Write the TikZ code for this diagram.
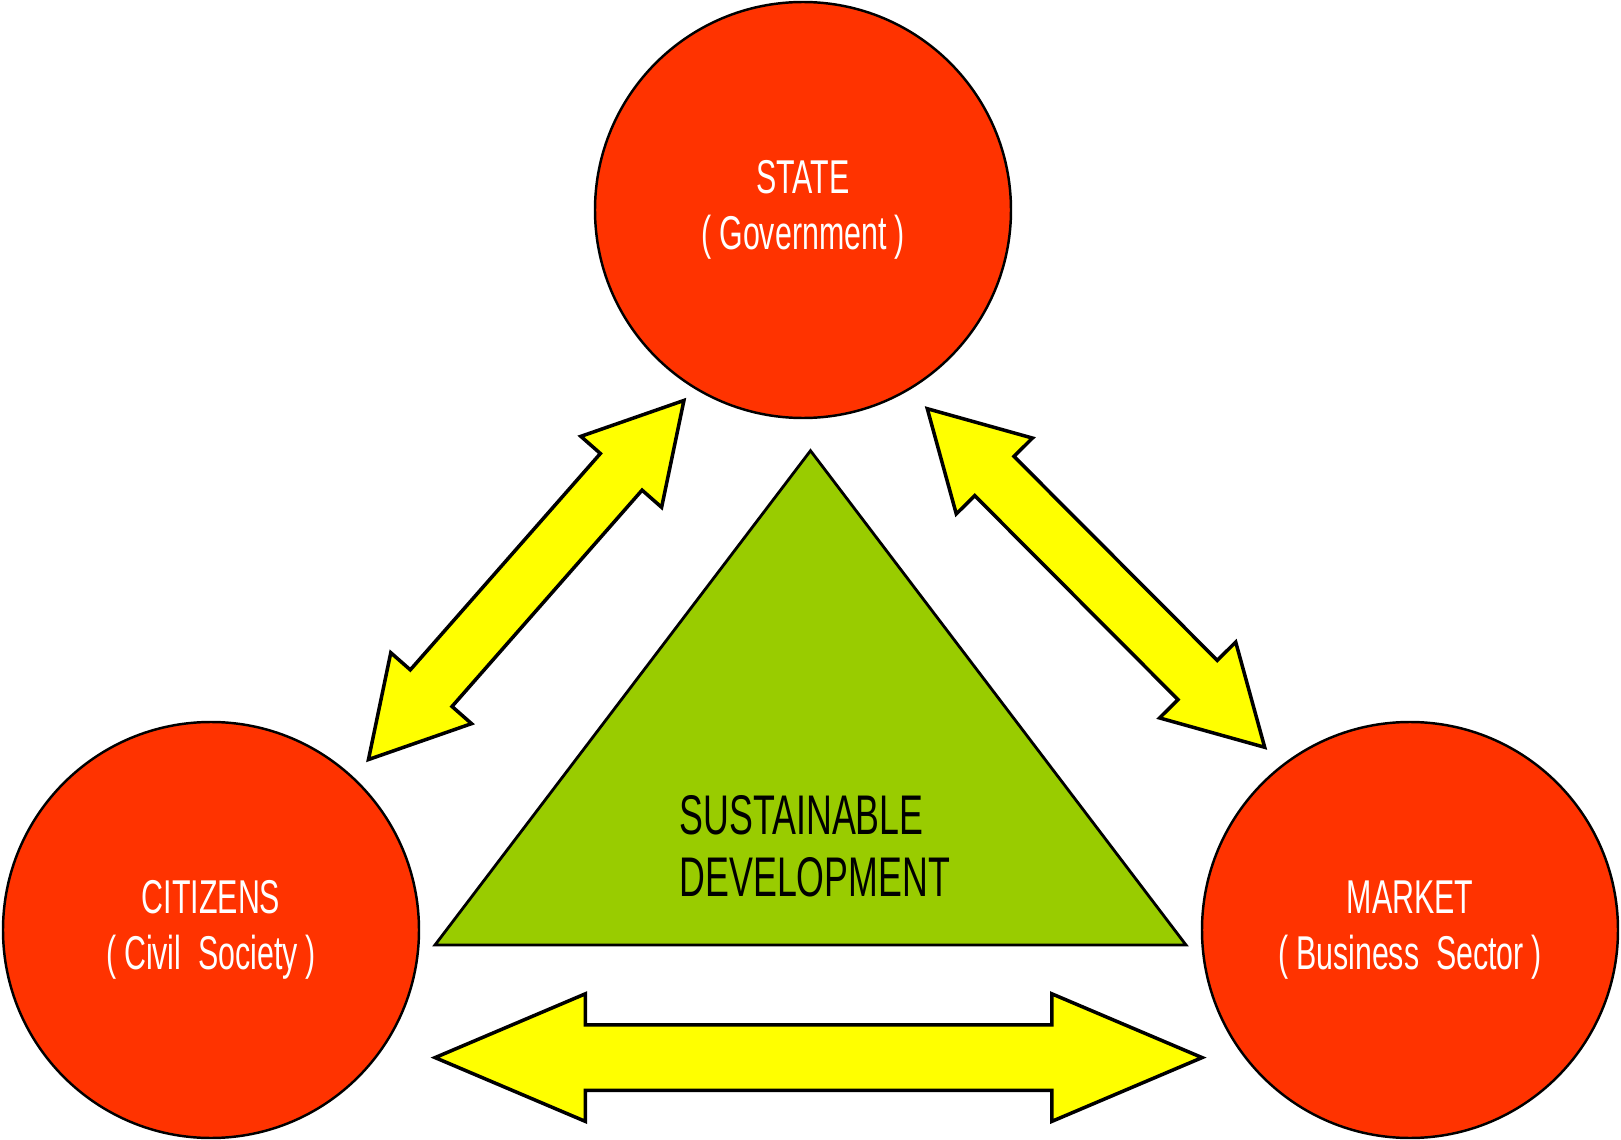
\documentclass[tikz,border=0pt]{standalone}
\usepackage{fontspec}
\setmainfont{Liberation Sans}
\newfontfamily\narrowfont[FakeStretch=0.64]{Liberation Sans}
\usepackage{tikz}
\usetikzlibrary{shapes.arrows}

\definecolor{actorred}{HTML}{FF3300}
\definecolor{goalgreen}{HTML}{99CC00}
\definecolor{linkyellow}{HTML}{FFFF00}

\tikzset{
	actor/.style={draw, line width=0.7pt, fill=actorred, shape=circle, minimum size=4.16cm,
		inner sep=0pt, align=center, text=white, font=\narrowfont\fontsize{13.5}{16}\selectfont},
	link/.style={draw, line width=1pt, fill=linkyellow, shape=double arrow, inner xsep=0pt,
		double arrow head indent=0pt},
	slantlink/.style={link, minimum height=4.78cm, inner ysep=0.26cm,
		double arrow head extend=0.26cm, double arrow tip angle=59}
}

\begin{document}
\begin{tikzpicture}
	\useasboundingbox (0,0) rectangle (16.21,11.39);

		\node[actor] (state)    at (8.03,9.29)  {STATE\\(\,Government\,)};
		\node[actor] (citizens) at (2.11,2.09)  {CITIZENS\\(\,Civil~~Society\,)};
		\node[actor] (market)   at (14.10,2.09) {MARKET\\(\,Business~~Sector\,)};

		\coordinate (apex)  at (8.105,6.883);
		\coordinate (baseL) at (4.35,1.94);
		\coordinate (baseR) at (11.86,1.94);
		\draw[line width=0.8pt, fill=goalgreen] (apex) -- (baseL) -- (baseR) -- cycle;
		\node[anchor=west, align=left, inner sep=0pt,
			font=\narrowfont\fontsize{15.9}{17.6}\selectfont] (goal) at (6.79,2.93) {SUSTAINABLE\\DEVELOPMENT};

		\node[slantlink, rotate=48.7]  (linkSC) at (5.262,5.59) {};
		\node[slantlink, rotate=-45.1] (linkSM) at (10.96,5.61) {};
		\node[link, minimum height=7.67cm, inner ysep=0.31cm,
			double arrow head extend=0.31cm, double arrow tip angle=46] (linkCM) at (8.186,0.814) {};
	\end{tikzpicture}
\end{document}
